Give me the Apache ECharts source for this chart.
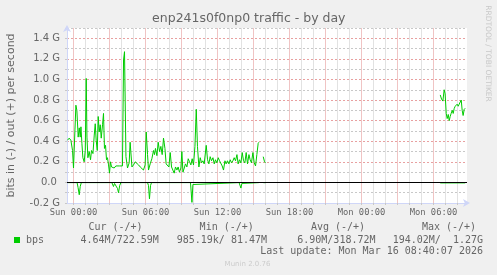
<!DOCTYPE html>
<html><head><meta charset="utf-8">
<script src="https://cdn.jsdelivr.net/npm/echarts@6/dist/echarts.min.js"></script>
<style>html,body{margin:0;padding:0;background:#f0f0f0;}#c{width:497px;height:275px;}</style>
</head><body><div id="c"></div>
<script>
// [hours since Sun 00:00, Gbit/s]
const outTraffic = [
 [-0.50,0.41],[-0.36,0.43],[-0.22,0.41],[-0.08,0.31],[0.00,0.14],[0.12,0.51],[0.20,0.75],[0.28,0.70],
 [0.39,0.44],[0.48,0.53],[0.56,0.44],[0.62,0.54],[0.70,0.38],[0.78,0.24],[0.89,0.20],[0.98,0.31],
 [1.06,1.01],[1.12,0.44],[1.20,0.24],[1.31,0.30],[1.42,0.22],[1.50,0.31],[1.62,0.28],[1.73,0.46],
 [1.81,0.57],[1.89,0.41],[1.98,0.31],[2.06,0.64],[2.14,0.49],[2.23,0.56],[2.31,0.43],[2.42,0.56],
 [2.50,0.67],[2.58,0.33],[2.67,0.36],[2.75,0.22],[2.83,0.24],[2.92,0.17],[3.00,0.09],[3.08,0.20],
 [3.17,0.15],[3.28,0.16],[3.39,0.14],[3.53,0.16],[3.67,0.15],[3.81,0.16],[3.95,0.15],[4.08,0.16],
 [4.17,1.19],[4.25,1.27],[4.37,0.25],[4.50,0.14],[4.64,0.19],[4.72,0.39],[4.87,0.15],[5.00,0.17],
 [5.14,0.20],[5.28,0.21],[5.42,0.17],[5.56,0.15],[5.70,0.14],[5.83,0.12],[5.97,0.17],[6.06,0.49],
 [6.17,0.27],[6.25,0.12],[6.39,0.18],[6.53,0.23],[6.67,0.31],[6.75,0.27],[6.83,0.33],[6.95,0.26],
 [7.06,0.39],[7.17,0.30],[7.28,0.35],[7.39,0.27],[7.50,0.43],[7.62,0.33],[7.72,0.18],[7.83,0.17],
 [7.95,0.15],[8.06,0.29],[8.17,0.15],[8.28,0.14],[8.39,0.09],[8.50,0.15],[8.62,0.12],[8.72,0.15],
 [8.83,0.10],[8.95,0.14],[9.03,0.30],[9.12,0.10],[9.23,0.14],[9.33,0.18],[9.45,0.15],[9.56,0.23],
 [9.67,0.20],[9.78,0.17],[9.89,0.23],[10.00,0.17],[10.12,0.35],[10.23,0.71],[10.33,0.35],[10.45,0.15],
 [10.56,0.24],[10.67,0.19],[10.78,0.21],[10.89,0.18],[11.06,0.36],[11.17,0.22],[11.28,0.18],[11.39,0.25],
 [11.50,0.21],[11.62,0.24],[11.73,0.18],[11.83,0.22],[11.95,0.19],[12.06,0.24],[12.17,0.21],[12.28,0.22],
 [12.39,0.16],[12.50,0.12],[12.62,0.21],[12.72,0.18],[12.83,0.21],[12.95,0.18],[13.06,0.22],[13.17,0.19],
 [13.28,0.21],[13.39,0.24],[13.50,0.21],[13.62,0.27],[13.72,0.18],[13.83,0.22],[13.95,0.19],[14.06,0.29],
 [14.17,0.21],[14.28,0.19],[14.39,0.29],[14.50,0.18],[14.62,0.27],[14.72,0.22],[14.83,0.19],[14.95,0.29],
 [15.06,0.19],[15.17,0.16],[15.28,0.27],[15.39,0.38],[15.45,0.39],[15.60,null],
 [15.81,0.25],[15.92,0.20],[16.00,0.19],[16.30,null],
 [30.56,0.85],[30.67,0.81],[30.78,0.79],[30.89,0.90],[30.97,0.86],[31.06,0.67],[31.14,0.62],[31.23,0.66],
 [31.31,0.60],[31.39,0.64],[31.47,0.67],[31.56,0.70],[31.64,0.67],[31.73,0.72],[31.81,0.74],[31.89,0.73],
 [31.97,0.76],[32.06,0.74],[32.14,0.76],[32.22,0.77],[32.31,0.80],[32.39,0.70],[32.47,0.65],[32.56,0.71],
 [32.64,0.72]
];
// [hours since Sun 00:00, Gbit/s] drawn below zero
const inTraffic = [
 [-0.50,0.002],[0.30,0.002],[0.38,0.05],[0.48,0.12],[0.56,0.04],[0.65,0.002],
 [3.20,0.002],[3.33,0.04],[3.42,0.01],[3.53,0.02],[3.67,0.06],[3.75,0.10],[3.85,0.03],[3.95,0.002],
 [4.80,0.002],[4.87,0.015],[4.95,0.002],
 [6.17,0.002],[6.25,0.03],[6.33,0.16],[6.42,0.03],[6.50,0.002],
 [9.75,0.002],[9.83,0.02],[9.87,0.194],[9.95,0.02],[10.03,0.002],
 [13.80,0.002],[13.88,0.01],[13.95,0.055],[14.03,0.01],[14.12,0.002],
 [15.45,0.002],[15.60,null],[15.81,0.002],[16.00,0.003],[16.30,null],
 [30.56,0.005],[32.64,0.0046]
];
const xLabelHours = [0,6,12,18,24,30];
const xLabels = ['Sun 00:00','Sun 06:00','Sun 12:00','Sun 18:00','Mon 00:00','Mon 06:00'];
const xGridHours = [0,1,2,3,4,5,6,7,8,9,10,11,12,13,14,15,16,17,18,19,20,21,22,23,24,25,26,27,28,29,30,31,32];
const yLabelValues = [-0.2,0,0.2,0.4,0.6,0.8,1.0,1.2,1.4];
const yLabels = ['-0.2 G','0.0 ','0.2 G','0.4 G','0.6 G','0.8 G','1.0 G','1.2 G','1.4 G'];
const legendHeaders = ['Cur (-/+)','Min (-/+)','Avg (-/+)','Max (-/+)'];
const legendValues = ['4.64M/722.59M','985.19k/ 81.47M','6.90M/318.72M','194.02M/  1.27G'];
const seriesName = 'bps';
const titleText = 'enp241s0f0np0 traffic - by day';
const yName = 'bits in (-) / out (+) per second';
const lastUpdate = 'Last update: Mon Mar 16 08:40:07 2026';

const xMin = -0.5417, xMax = 32.7917;
const FONT = '#666666', GREEN = '#00CC00', AXIS = '#CFD6F8';
const GRIDC = '#c8c8c8', MGRIDC = '#e8a0a0';
const VGRIDC = '#e2e2e2', VMGRIDC = '#f0c4c4';
const sans = '"DejaVu Sans"', mono = '"DejaVu Sans Mono"';

const chart = echarts.init(document.getElementById('c'), null, {renderer:'canvas'});
const headerX = [115.5, 226.7, 338, 449];
const valueRight = [158.8, 267, 375.5, 483];
const graphics = [
  {type:'text', x:248.8, y:19, style:{text:titleText, font:'12.5px '+sans, fill:FONT, align:'center', verticalAlign:'middle'}},
  {type:'text', x:11.5, y:115.5, rotation:Math.PI/2, style:{text:yName, font:'11px '+sans, fill:FONT, align:'center', verticalAlign:'middle'}},
  {type:'text', x:487.8, y:53.5, rotation:-Math.PI/2, style:{text:'RRDTOOL / TOBI OETIKER', font:'7.5px '+sans, fill:'#c8c8c8', align:'center', verticalAlign:'middle'}},
  {type:'rect', shape:{x:14, y:237, width:6, height:6}, style:{fill:GREEN}},
  {type:'text', x:26, y:240, style:{text:seriesName, font:'10px '+mono, fill:FONT, align:'left', verticalAlign:'middle'}},
  {type:'text', x:483, y:251, style:{text:lastUpdate, font:'10px '+mono, fill:FONT, align:'right', verticalAlign:'middle'}},
  {type:'text', x:247.5, y:264, style:{text:'Munin 2.0.76', font:'7px '+sans, fill:'#cccccc', align:'center', verticalAlign:'middle'}}
];
legendHeaders.forEach((t,i)=>graphics.push({type:'text', x:headerX[i], y:227, style:{text:t, font:'10px '+mono, fill:FONT, align:'center', verticalAlign:'middle'}}));
legendValues.forEach((t,i)=>graphics.push({type:'text', x:valueRight[i], y:240, style:{text:t, font:'10px '+mono, fill:FONT, align:'right', verticalAlign:'middle'}}));

chart.setOption({
  animation:false,
  backgroundColor:'#f0f0f0',
  grid:{left:67, top:28, width:400, height:175, containLabel:false, show:true, backgroundColor:'#ffffff', borderWidth:0},
  xAxis:{type:'value', position:'bottom', min:xMin, max:xMax,
     axisLine:{show:true, onZero:false, symbol:['none','arrow'], symbolSize:[6,7], symbolOffset:[0,3], lineStyle:{color:AXIS, width:1}},
     axisTick:{show:true, customValues:xGridHours, length:2, lineStyle:{color:[MGRIDC,GRIDC,GRIDC]}},
     axisLabel:{show:true, customValues:xLabelHours, margin:5, color:FONT, fontFamily:'DejaVu Sans Mono', fontSize:8.8,
       formatter:v=>{const i=xLabelHours.indexOf(v);return i<0?'':xLabels[i];}},
     splitLine:{show:true, lineStyle:{color:[VMGRIDC,VGRIDC,VGRIDC], width:1, type:'solid'}}},
  yAxis:{type:'value', position:'left', min:-0.2, max:1.5, interval:0.1,
     axisLine:{show:true, onZero:false, symbol:['none','arrow'], symbolSize:[6,7], symbolOffset:[0,3], lineStyle:{color:AXIS, width:1}},
     axisTick:{show:true, length:2, lineStyle:{color:GRIDC}},
     axisLabel:{show:true, margin:7, color:FONT, fontFamily:'DejaVu Sans', fontSize:10,
       formatter:v=>{let i=-1;yLabelValues.forEach((y,k)=>{if(Math.abs(y-v)<1e-6)i=k;});return i<0?'':yLabels[i];}},
     splitLine:{show:true, lineStyle:{color:[MGRIDC,GRIDC], width:1, type:[2,2]}}},
  series:[
    {name:'out', type:'line', z:3, showSymbol:false, symbol:'none', connectNulls:false,
     lineStyle:{color:GREEN, width:1}, data:outTraffic.map(p=>[p[0], p[1]===null?null:p[1]])},
    {name:'in', type:'line', z:3, showSymbol:false, symbol:'none', connectNulls:false,
     lineStyle:{color:GREEN, width:1}, data:inTraffic.map(p=>[p[0], p[1]===null?null:-p[1]]),
     markLine:{silent:true, symbol:['none','none'], label:{show:false}, animation:false,
       lineStyle:{color:'#000000', width:1, type:'solid'}, data:[{yAxis:0}]}}
  ],
  graphic:graphics
});
</script></body></html>
